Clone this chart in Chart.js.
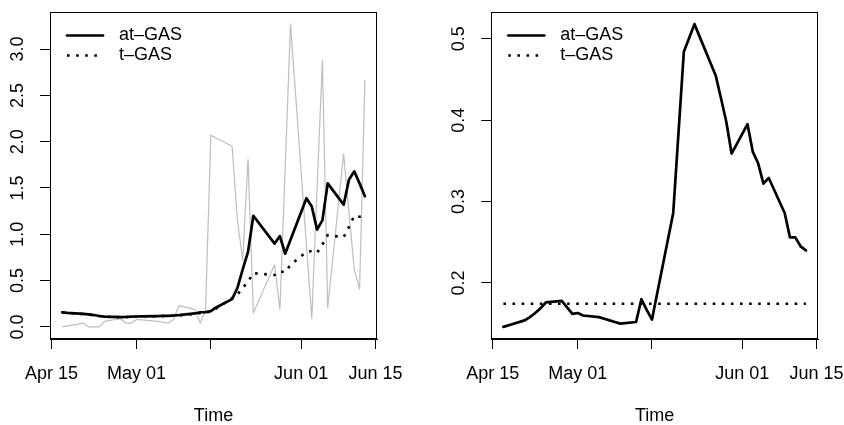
<!DOCTYPE html>
<html>
<head>
<meta charset="utf-8">
<script src="https://cdn.jsdelivr.net/npm/chart.js@4.4.1/dist/chart.umd.min.js"></script>
<style>
    html, body { margin: 0; padding: 0; background: #fff; }
    #wrap { position: relative; width: 844px; height: 425px; }
    canvas { position: absolute; top: 0; }
</style>
</head>
<body>
<div id="wrap">
    <canvas id="leftChart" width="422" height="425" style="left:0"></canvas>
    <canvas id="rightChart" width="422" height="425" style="left:422px"></canvas>
</div>
<script>
// days counted from Apr 15
let days = [2, 3, 6, 7, 8, 9, 10, 13, 14, 15, 16, 17, 20, 21, 22, 23, 24, 27, 28, 29, 30, 31,
    34, 35, 36, 37, 38, 42, 43, 44, 45, 48, 49, 50, 51, 52, 55, 56, 57, 58, 59]

let xTickDays = [0, 16, 30, 47, 61]
let xTickLabels = ["Apr 15", "May 01", "", "Jun 01", "Jun 15"]

let legendLabels = ["at\u2013GAS", "t\u2013GAS"]

// left panel
let observed = [0.00, 0.01, 0.04, 0.00, 0.00, 0.00, 0.06, 0.09, 0.04, 0.04, 0.08, 0.075, 0.06, 0.05, 0.04, 0.08, 0.23, 0.19, 0.04, 0.18, 2.07, 2.04,
    1.95, 1.15, 0.72, 1.81, 0.15, 0.67, 0.19, 1.73, 3.27, 0.88, 0.09, 1.50, 2.88, 0.21, 1.87, 1.24, 0.62, 0.41, 2.67]
let atGasLeft = [0.158, 0.152, 0.14, 0.135, 0.128, 0.118, 0.11, 0.105, 0.107, 0.11, 0.112, 0.113, 0.116, 0.118, 0.12, 0.123, 0.127, 0.145, 0.158, 0.16, 0.17, 0.21,
    0.30, 0.42, 0.62, 0.81, 1.20, 0.90, 0.98, 0.79, 0.94, 1.39, 1.30, 1.05, 1.15, 1.55, 1.32, 1.59, 1.68, 1.55, 1.41]
let tGasLeft = [0.155, 0.15, 0.138, 0.133, 0.126, 0.117, 0.11, 0.105, 0.106, 0.108, 0.11, 0.112, 0.115, 0.117, 0.119, 0.121, 0.125, 0.14, 0.15, 0.155, 0.165, 0.20,
    0.31, 0.35, 0.42, 0.49, 0.58, 0.56, 0.60, 0.59, 0.67, 0.81, 0.82, 0.80, 0.89, 0.99, 0.97, 1.08, 1.20, 1.19, 1.19]
let leftYTicks = [0, 0.5, 1, 1.5, 2, 2.5, 3]

// right panel
let atGasRight = [0.146, 0.148, 0.154, 0.158, 0.163, 0.169, 0.176, 0.178, 0.170, 0.162, 0.163, 0.160, 0.158, 0.156, 0.154, 0.152, 0.150, 0.152, 0.180, 0.167, 0.155, 0.188,
    0.286, 0.385, 0.484, 0.501, 0.518, 0.455, 0.427, 0.398, 0.359, 0.395, 0.361, 0.347, 0.322, 0.329, 0.286, 0.256, 0.256, 0.245, 0.240]
let tGasRight = [0.1745, 0.1745, 0.1745, 0.1745, 0.1745, 0.1745, 0.1745, 0.1745, 0.1745, 0.1745, 0.1745, 0.1745, 0.1745, 0.1745, 0.1745, 0.1745, 0.1745, 0.1745, 0.1745, 0.1745, 0.1745, 0.1745,
    0.1745, 0.1745, 0.1745, 0.1745, 0.1745, 0.1745, 0.1745, 0.1745, 0.1745, 0.1745, 0.1745, 0.1745, 0.1745, 0.1745, 0.1745, 0.1745, 0.1745, 0.1745, 0.1745]
let rightYTicks = [0.2, 0.3, 0.4, 0.5]

const FONT = "'Liberation Sans', Arial, sans-serif"
Chart.defaults.font.family = FONT
Chart.defaults.font.size = 18
Chart.defaults.color = "#000"

const toPoints = vals => days.map((d, i) => ({ x: d, y: vals[i] }))

// box around the plot region (R style)
const rBox = {
    id: "rBox",
    afterDatasetsDraw(chart) {
        const { ctx, chartArea: a } = chart
        ctx.save()
        ctx.strokeStyle = "#000"
        ctx.lineWidth = 1
        const l = Math.round(a.left) + 0.5, t = Math.round(a.top) + 0.5
        const r = Math.round(a.right) - 0.5, b = Math.round(a.bottom) - 0.5
        ctx.strokeRect(l, t, r - l, b - t)
        ctx.restore()
    }
}

// legend inside the plot, top left, no frame
const rLegend = {
    id: "rLegend",
    afterDatasetsDraw(chart) {
        const { ctx, chartArea: a } = chart
        const rows = [22.5, 43]
        ctx.save()
        legendLabels.forEach((label, i) => {
            const ds = chart.data.datasets[i]
            const y = Math.round(a.top + rows[i]) + 0.5
            ctx.beginPath()
            ctx.strokeStyle = ds.borderColor
            ctx.lineWidth = ds.borderWidth
            ctx.lineCap = ds.borderCapStyle
            ctx.setLineDash(ds.borderDash || [])
            ctx.moveTo(a.left + 17, y)
            ctx.lineTo(a.left + 53, y)
            ctx.stroke()
            ctx.setLineDash([])
            ctx.fillStyle = "#000"
            ctx.font = `18px ${FONT}`
            ctx.textBaseline = "middle"
            ctx.textAlign = "left"
            ctx.fillText(label, a.left + 69, y)
        })
        ctx.restore()
    }
}

function makeChart(id, datasets, yMin, yMax, yTicks, padLeft, padRight) {
    return new Chart(document.getElementById(id), {
        type: "line",
        data: { datasets },
        options: {
            responsive: false,
            animation: false,
            layout: { padding: { left: padLeft, right: padRight, top: 12, bottom: 0 } },
            elements: { point: { radius: 0 }, line: { tension: 0 } },
            plugins: { legend: { display: false }, tooltip: { enabled: false } },
            scales: {
                x: {
                    type: "linear",
                    min: -0.28,
                    max: 61.28,
                    afterBuildTicks: s => { s.ticks = xTickDays.map(v => ({ value: v })) },
                    afterFit: s => { s.height = 86; s.paddingLeft = 0; s.paddingRight = 0 },
                    grid: { display: true, drawOnChartArea: false, drawTicks: true, tickLength: 10, color: "#000", lineWidth: 1 },
                    border: { display: true, color: "#000", width: 1 },
                    ticks: {
                        autoSkip: false, maxRotation: 0, padding: 14,
                        callback: (v, i) => xTickLabels[i]
                    },
                    title: { display: true, text: "Time", font: { size: 18, lineHeight: 1 }, padding: { top: 0, bottom: 0 } }
                },
                y: {
                    min: yMin,
                    max: yMax,
                    afterBuildTicks: s => { s.ticks = yTicks.map(v => ({ value: v })) },
                    afterFit: s => { s.width = 40; s.paddingTop = 0; s.paddingBottom = 0 },
                    grid: { display: true, drawOnChartArea: false, drawTicks: true, tickLength: 10, color: "#000", lineWidth: 1 },
                    border: { display: true, color: "#000", width: 1 },
                    ticks: {
                        minRotation: 90, maxRotation: 90, crossAlign: "center", padding: 9.5,
                        callback: v => v.toFixed(1)
                    }
                }
            }
        },
        plugins: [rBox, rLegend]
    })
}

makeChart("leftChart", [
    { label: legendLabels[0], data: toPoints(atGasLeft), borderColor: "#000", borderWidth: 2.7, borderCapStyle: "round", borderJoinStyle: "round", order: 0 },
    { label: legendLabels[1], data: toPoints(tGasLeft), borderColor: "#000", borderWidth: 2.6, borderCapStyle: "butt", borderDash: [2.6, 6.5], order: 1 },
    { label: "observed", data: toPoints(observed), borderColor: "#bebebe", borderWidth: 1.2, borderJoinStyle: "round", order: 2 }
], -0.1308, 3.4008, leftYTicks, 10, 45)

makeChart("rightChart", [
    { label: legendLabels[0], data: toPoints(atGasRight), borderColor: "#000", borderWidth: 2.7, borderCapStyle: "round", borderJoinStyle: "round", order: 0 },
    { label: legendLabels[1], data: toPoints(tGasRight), borderColor: "#000", borderWidth: 2.6, borderCapStyle: "butt", borderDash: [2.6, 6.5], order: 1 }
], 0.1311, 0.5329, rightYTicks, 29.3, 26)
</script>
</body>
</html>
